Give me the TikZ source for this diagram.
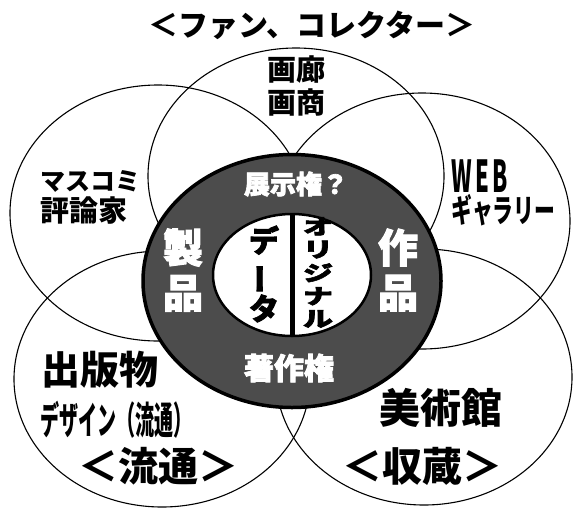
\documentclass[tikz,border=0pt]{standalone}
\usepackage{fontspec}
\usepackage{graphicx}
\setmainfont{Noto Sans CJK JP}
\newfontfamily\heavy{Noto Sans CJK JP}[BoldFeatures={FakeBold=2.5}]
\usetikzlibrary{shapes.geometric}
\newcommand{\fs}[1]{\fontsize{#1}{#1}\selectfont}
\newcommand{\vbar}{\rotatebox[origin=c]{90}{ー}}
\tikzset{
  venn/.style={ellipse, draw=black, line width=1.1pt, minimum width=296pt, minimum height=256pt, inner sep=0pt},
  ringo/.style={ellipse, draw=black, fill=black!70, line width=3.5pt, minimum width=298pt, minimum height=253pt, inner sep=0pt},
  ringi/.style={ellipse, draw=black, fill=white, line width=2.5pt, minimum width=158pt, minimum height=122pt, inner sep=0pt},
  lbl/.style={inner sep=0pt, text=black},
  wlbl/.style={inner sep=0pt, text=white},
}
\begin{document}
\begin{tikzpicture}[x=1pt, y=-1pt]
\useasboundingbox (0,0) rectangle (580,517);
\fill[white] (0,0) rectangle (580,517);
% outer circles
\node[venn] (ctop) at (296,176) {};
\node[venn] (cleft) at (158,213) {};
\node[venn] (cright) at (422,221) {};
\node[venn] (cbl) at (162,379) {};
\node[venn] (cbr) at (424,377) {};
% ring
\node[ringo] (ring) at (292,281) {};
\node[ringi] (inner) at (292,275) {};
\draw[line width=5pt] (inner.north) -- (inner.south);
% texts
\node[lbl, font=\bfseries\fs{30}] (title) at (312,25) {＜ファン、コレクター＞};
\node[lbl, font=\bfseries\fontsize{29}{33}\selectfont, align=center] (gallery) at (296,86) {画廊\\画商};
\node[lbl, font=\bfseries\fs{25}, anchor=west] (mc1) at (40,181) {マスコミ};
\node[lbl, font=\bfseries\fs{29}, anchor=west] (mc2) at (40,211) {評論家};
\node[lbl, font=\bfseries\fs{44}, anchor=west] (web1) at (451,176) {\scalebox{0.5}[1]{W\,E\,B}};
\node[lbl, font=\bfseries\fs{32}, anchor=west] (web2) at (451,210) {\scalebox{0.65}[1]{ギャラリー}};
\node[wlbl, font=\heavy\bfseries\fs{26}] (ten) at (296,184) {展示権？};
\node[wlbl, font=\heavy\bfseries\fontsize{40}{45}\selectfont, align=center] (seihin) at (183,270) {製\\品};
\node[wlbl, font=\heavy\bfseries\fontsize{40}{45}\selectfont, align=center] (sakuhin) at (398,270) {作\\品};
\node[lbl, font=\heavy\bfseries\fontsize{30}{34}\selectfont, align=center] (data) at (264,274) {デ\\\vbar\\タ};
\node[lbl, font=\heavy\bfseries\fontsize{30}{30}\selectfont] (orig) at (318,275) {\scalebox{1}[0.7]{\begin{tabular}{@{}c@{}}オ\\リ\\ジ\\ナ\\ル\end{tabular}}};
\node[wlbl, font=\heavy\bfseries\fs{30}] (cho) at (289,368) {著作権};
\node[lbl, font=\bfseries\fs{39}, anchor=west] (pub) at (41,370) {出版物};
\node[lbl, font=\bfseries\fs{38}, anchor=west] (des) at (40,420) {\scalebox{0.5}[1]{デザイン（流通）}};
\node[lbl, font=\bfseries\fs{40}] (ryu) at (158,466) {＜流通＞};
\node[lbl, font=\bfseries\fs{41}] (bij) at (441,408) {美術館};
\node[lbl, font=\bfseries\fs{40}] (shu) at (422,466) {＜収蔵＞};
\end{tikzpicture}
\end{document}
